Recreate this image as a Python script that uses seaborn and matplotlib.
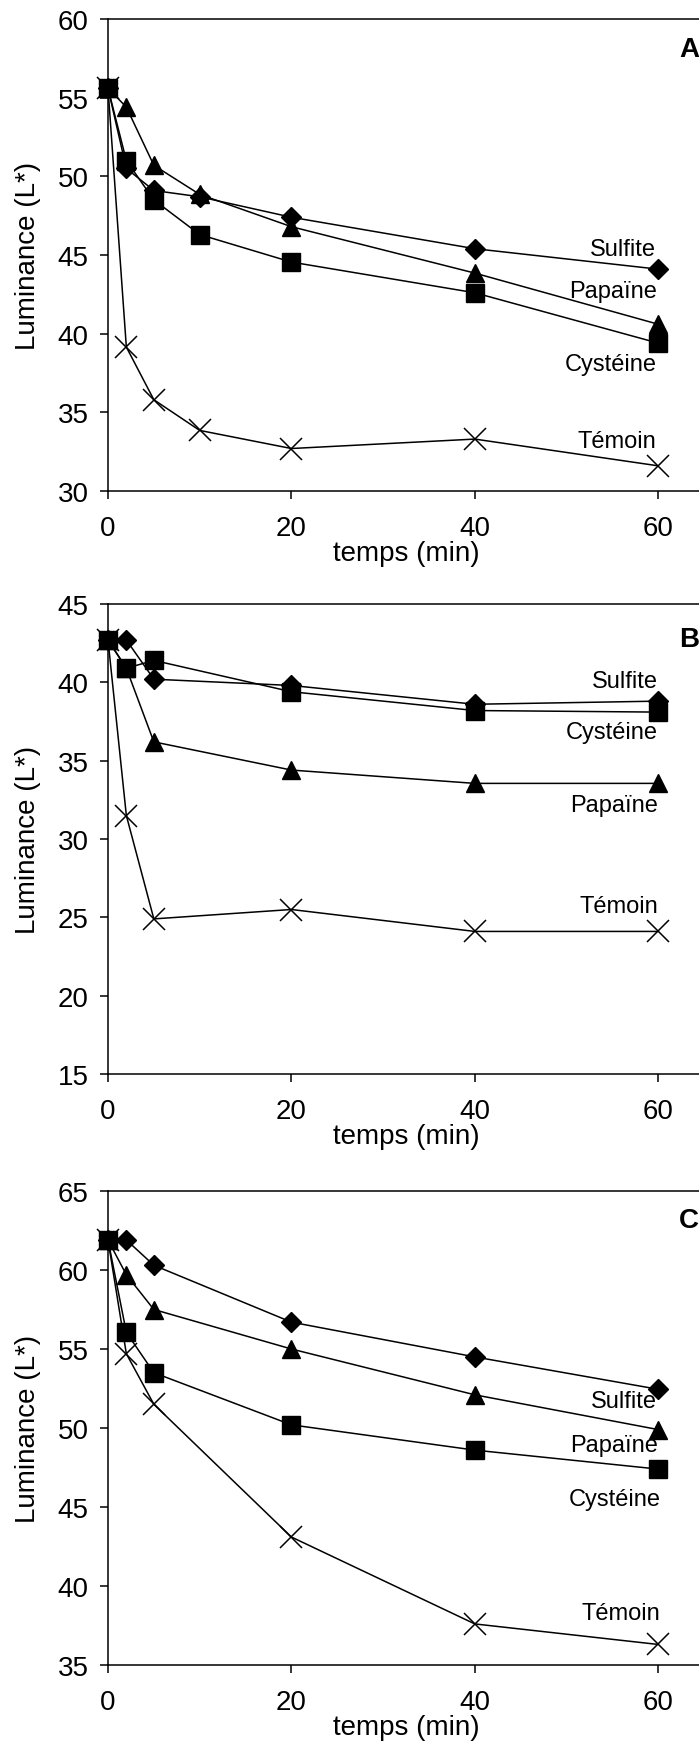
import matplotlib
matplotlib.use("Agg")
import matplotlib.pyplot as plt
import seaborn as sns
import pandas as pd

# ---------------- data ----------------
times_A = [0, 2, 5, 10, 20, 40, 60]
sulfite_A = [55.6, 50.5, 49.1, 48.7, 47.4, 45.4, 44.1]
papaine_A = [55.6, 54.4, 50.7, 48.85, 46.8, 43.85, 40.6]
cysteine_A = [55.6, 51.0, 48.5, 46.3, 44.55, 42.6, 39.4]
temoin_A = [55.6, 39.15, 35.8, 33.85, 32.7, 33.3, 31.6]

times_BC = [0, 2, 5, 20, 40, 60]
sulfite_B = [42.7, 42.7, 40.2, 39.8, 38.6, 38.8]
papaine_B = [42.7, 40.9, 36.2, 34.4, 33.55, 33.55]
cysteine_B = [42.7, 40.9, 41.4, 39.4, 38.2, 38.1]
temoin_B = [42.7, 31.5, 24.9, 25.5, 24.1, 24.1]

sulfite_C = [61.9, 61.9, 60.3, 56.7, 54.5, 52.45]
papaine_C = [61.9, 59.7, 57.5, 55.0, 52.1, 49.9]
cysteine_C = [61.9, 56.05, 53.5, 50.2, 48.6, 47.4]
temoin_C = [61.9, 54.7, 51.5, 43.1, 37.6, 36.3]

series_names = ["Témoin", "Sulfite", "Papaïne", "Cystéine"]
panel_letters = ["A", "B", "C"]
y_limits = [(30, 60), (15, 45), (35, 65)]
x_ticks = [0, 20, 40, 60]
x_label = "temps (min)"
y_label = "Luminance (L*)"

# label positions (x, y) for the series names in each panel
label_pos = [
    {"Sulfite": (59.8, 45.4), "Papaïne": (59.9, 42.7), "Cystéine": (59.8, 38.1), "Témoin": (59.8, 33.2)},
    {"Sulfite": (60.0, 40.1), "Cystéine": (60.0, 36.8), "Papaïne": (60.0, 32.2), "Témoin": (60.0, 25.7)},
    {"Sulfite": (59.9, 51.7), "Papaïne": (60.0, 48.9), "Cystéine": (60.3, 45.5), "Témoin": (60.2, 38.3)},
]

panels = [
    (times_A, {"Témoin": temoin_A, "Sulfite": sulfite_A, "Papaïne": papaine_A, "Cystéine": cysteine_A}),
    (times_BC, {"Témoin": temoin_B, "Sulfite": sulfite_B, "Papaïne": papaine_B, "Cystéine": cysteine_B}),
    (times_BC, {"Témoin": temoin_C, "Sulfite": sulfite_C, "Papaïne": papaine_C, "Cystéine": cysteine_C}),
]

# ---------------- style ----------------
sns.set_theme(style="ticks")
plt.rcParams["font.family"] = ["Liberation Sans", "DejaVu Sans"]
plt.rcParams["axes.linewidth"] = 1.1

marker_style = {
    "Témoin": dict(marker="x", markersize=16, markeredgewidth=1.1),
    "Sulfite": dict(marker="D", markersize=10, markeredgewidth=1.0),
    "Papaïne": dict(marker="^", markersize=13, markeredgewidth=1.0),
    "Cystéine": dict(marker="s", markersize=13, markeredgewidth=1.0),
}

W, H = 699, 1749
fig = plt.figure(figsize=(W / 100, H / 100), dpi=100)

# axes boxes in pixels: left, top, bottom
boxes = [(108, 20, 492), (108, 605, 1075), (108, 1192, 1666)]
px_per_unit = 9.17
xmax = 70
letter_y = [50, 640, 1221]

for i, ((times, data), (lp, tp, bp)) in enumerate(zip(panels, boxes)):
    width_px = xmax * px_per_unit
    ax = fig.add_axes([lp / W, 1 - bp / H, width_px / W, (bp - tp) / H])
    for name in series_names:
        df = pd.DataFrame({"t": times, "L": data[name]})
        sns.lineplot(data=df, x="t", y="L", ax=ax, color="black", linewidth=1.1,
                     markerfacecolor="black", markeredgecolor="black",
                     clip_on=False, **marker_style[name])
    ax.set_xlim(0, xmax)
    ax.set_ylim(*y_limits[i])
    ax.set_xticks(x_ticks)
    lo, hi = y_limits[i]
    ax.set_yticks(list(range(lo, hi + 1, 5)))
    ax.tick_params(axis="both", direction="out", length=6, width=1.1,
                   labelsize=20, color="black", labelcolor="black")
    ax.tick_params(axis="x", pad=11)
    ax.tick_params(axis="y", pad=8)
    for s in ["left", "top", "bottom"]:
        ax.spines[s].set_color("black")
    ax.spines["right"].set_visible(False)
    ax.set_xlabel(x_label, fontsize=20, color="black")
    ax.set_ylabel(y_label, fontsize=20, color="black")
    ax.xaxis.set_label_coords((406 - lp) / width_px, -(541 - 492) / (bp - tp))
    ax.yaxis.set_label_coords(-(108 - 41) / width_px, 0.5)
    for name, (x, y) in label_pos[i].items():
        ax.text(x, y, name, ha="right", va="center", fontsize=17, color="black")
    fig.text(679 / W, 1 - letter_y[i] / H, panel_letters[i], ha="left", va="center",
             fontsize=20, fontweight="bold", color="black")

fig.savefig("out.png", dpi=100)
